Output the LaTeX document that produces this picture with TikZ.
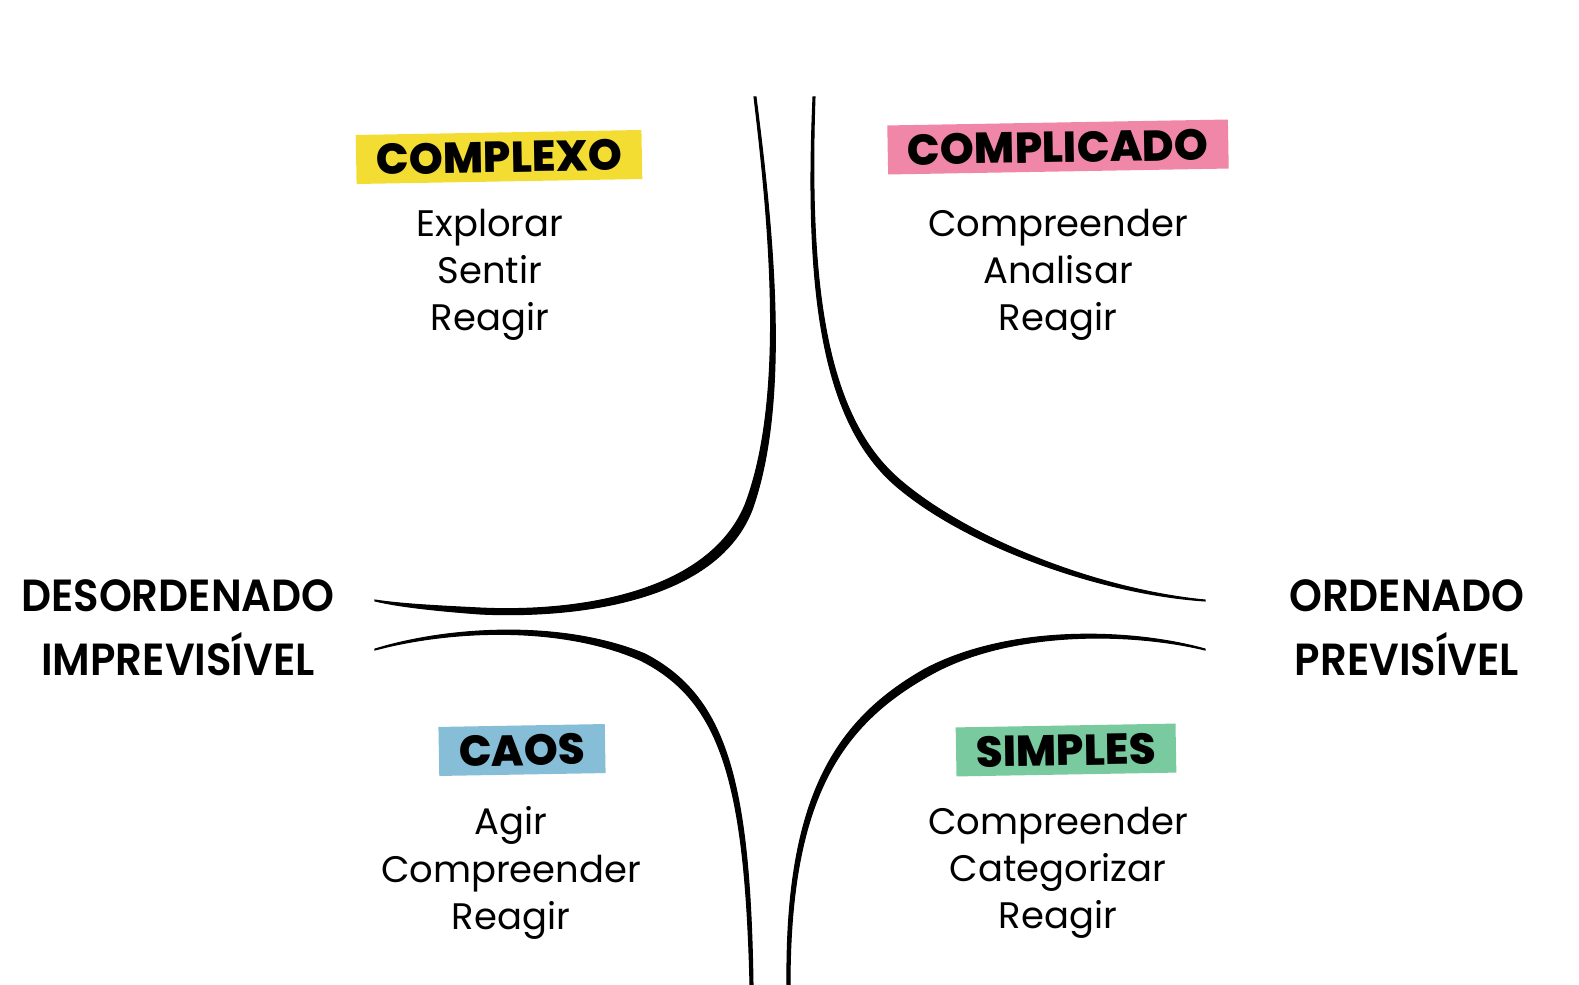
\documentclass[tikz,border=0pt]{standalone}
\usepackage{fontspec}
\setmainfont{Poppins}
\newfontfamily\axisfont{Poppins SemiBold}[FakeStretch=0.93]
\newfontfamily\domainfont{Poppins ExtraBold}
\usepackage{tikz}
\usepackage{xcolor}
\usetikzlibrary{positioning}
\definecolor{cxyellow}{RGB}{243,221,50}
\definecolor{cxpink}{RGB}{240,134,168}
\definecolor{cxblue}{RGB}{134,190,216}
\definecolor{cxgreen}{RGB}{122,202,160}
\tikzset{
  domain/.style={fill=#1, rotate=1, inner xsep=2mm, inner ysep=0.9mm, text height=3.1mm, text depth=0pt, font=\fontsize{12.3}{14}\selectfont\domainfont},
  acts/.style={align=center, font=\fontsize{10.5}{13.4}\selectfont},
  axis/.style={align=center, font=\fontsize{12.8}{18.2}\selectfont\axisfont},
  curve/.style={fill=black, draw=black, line width=0.3pt}
}
\begin{document}
\begin{tikzpicture}[x=0.01cm,y=-0.01cm]
            \useasboundingbox (0,0) rectangle (1579,985);

            \node[domain=cxyellow] (cplx) at (499,157){COMPLEXO};
            \node[domain=cxpink] (cplc) at (1058,147){COMPLICADO};
            \node[domain=cxblue] (caos) at (522,750){CAOS};
            \node[domain=cxgreen] (simp) at (1066,750){SIMPLES};

            \node[acts] (cplxa) at (490,275){Explorar\\Sentir\\Reagir};
            \node[acts] (cplca) at (1058,275){Compreender\\Analisar\\Reagir};
            \node[acts] (caosa) at (511,873){Agir\\Compreender\\Reagir};
            \node[acts] (simpa) at (1058,873){Compreender\\Categorizar\\Reagir};

            \node[axis] (desord) at (178,628){DESORDENADO\\IMPREVISÍVEL};
            \node[axis] (ord) at (1407,628){ORDENADO\\PREVISÍVEL};

            \filldraw[curve] (754,97) .. controls (770,230) and (785,400) .. (745,505) .. controls (705,600) and (560,612) .. (480,608) .. controls (440,606) and (400,604) .. (375,600)
              -- (375,601) .. controls (400,607) and (440,611) .. (480,614) .. controls (562,618) and (714,607) .. (752,510) .. controls (791,401) and (773,230) .. (756,97) -- cycle;
            \filldraw[curve] (815,97) .. controls (808,300) and (830,420) .. (900,480) .. controls (970,540) and (1100,590) .. (1205,600)
              -- (1205,601) .. controls (1100,594) and (966,546) .. (896,486) .. controls (824,424) and (804,300) .. (813,97) -- cycle;
            \filldraw[curve] (375,650) .. controls (450,630) and (560,625) .. (640,660) .. controls (720,700) and (745,780) .. (750,985)
              -- (753,985) .. controls (750,780) and (726,696) .. (645,654) .. controls (563,620) and (450,626) .. (375,649) -- cycle;
            \filldraw[curve] (1205,650) .. controls (1130,632) and (1010,630) .. (930,675) .. controls (840,725) and (790,800) .. (790,985)
              -- (787,985) .. controls (785,798) and (835,720) .. (925,669) .. controls (1008,625) and (1130,628) .. (1205,649) -- cycle;
        \end{tikzpicture}
\end{document}
